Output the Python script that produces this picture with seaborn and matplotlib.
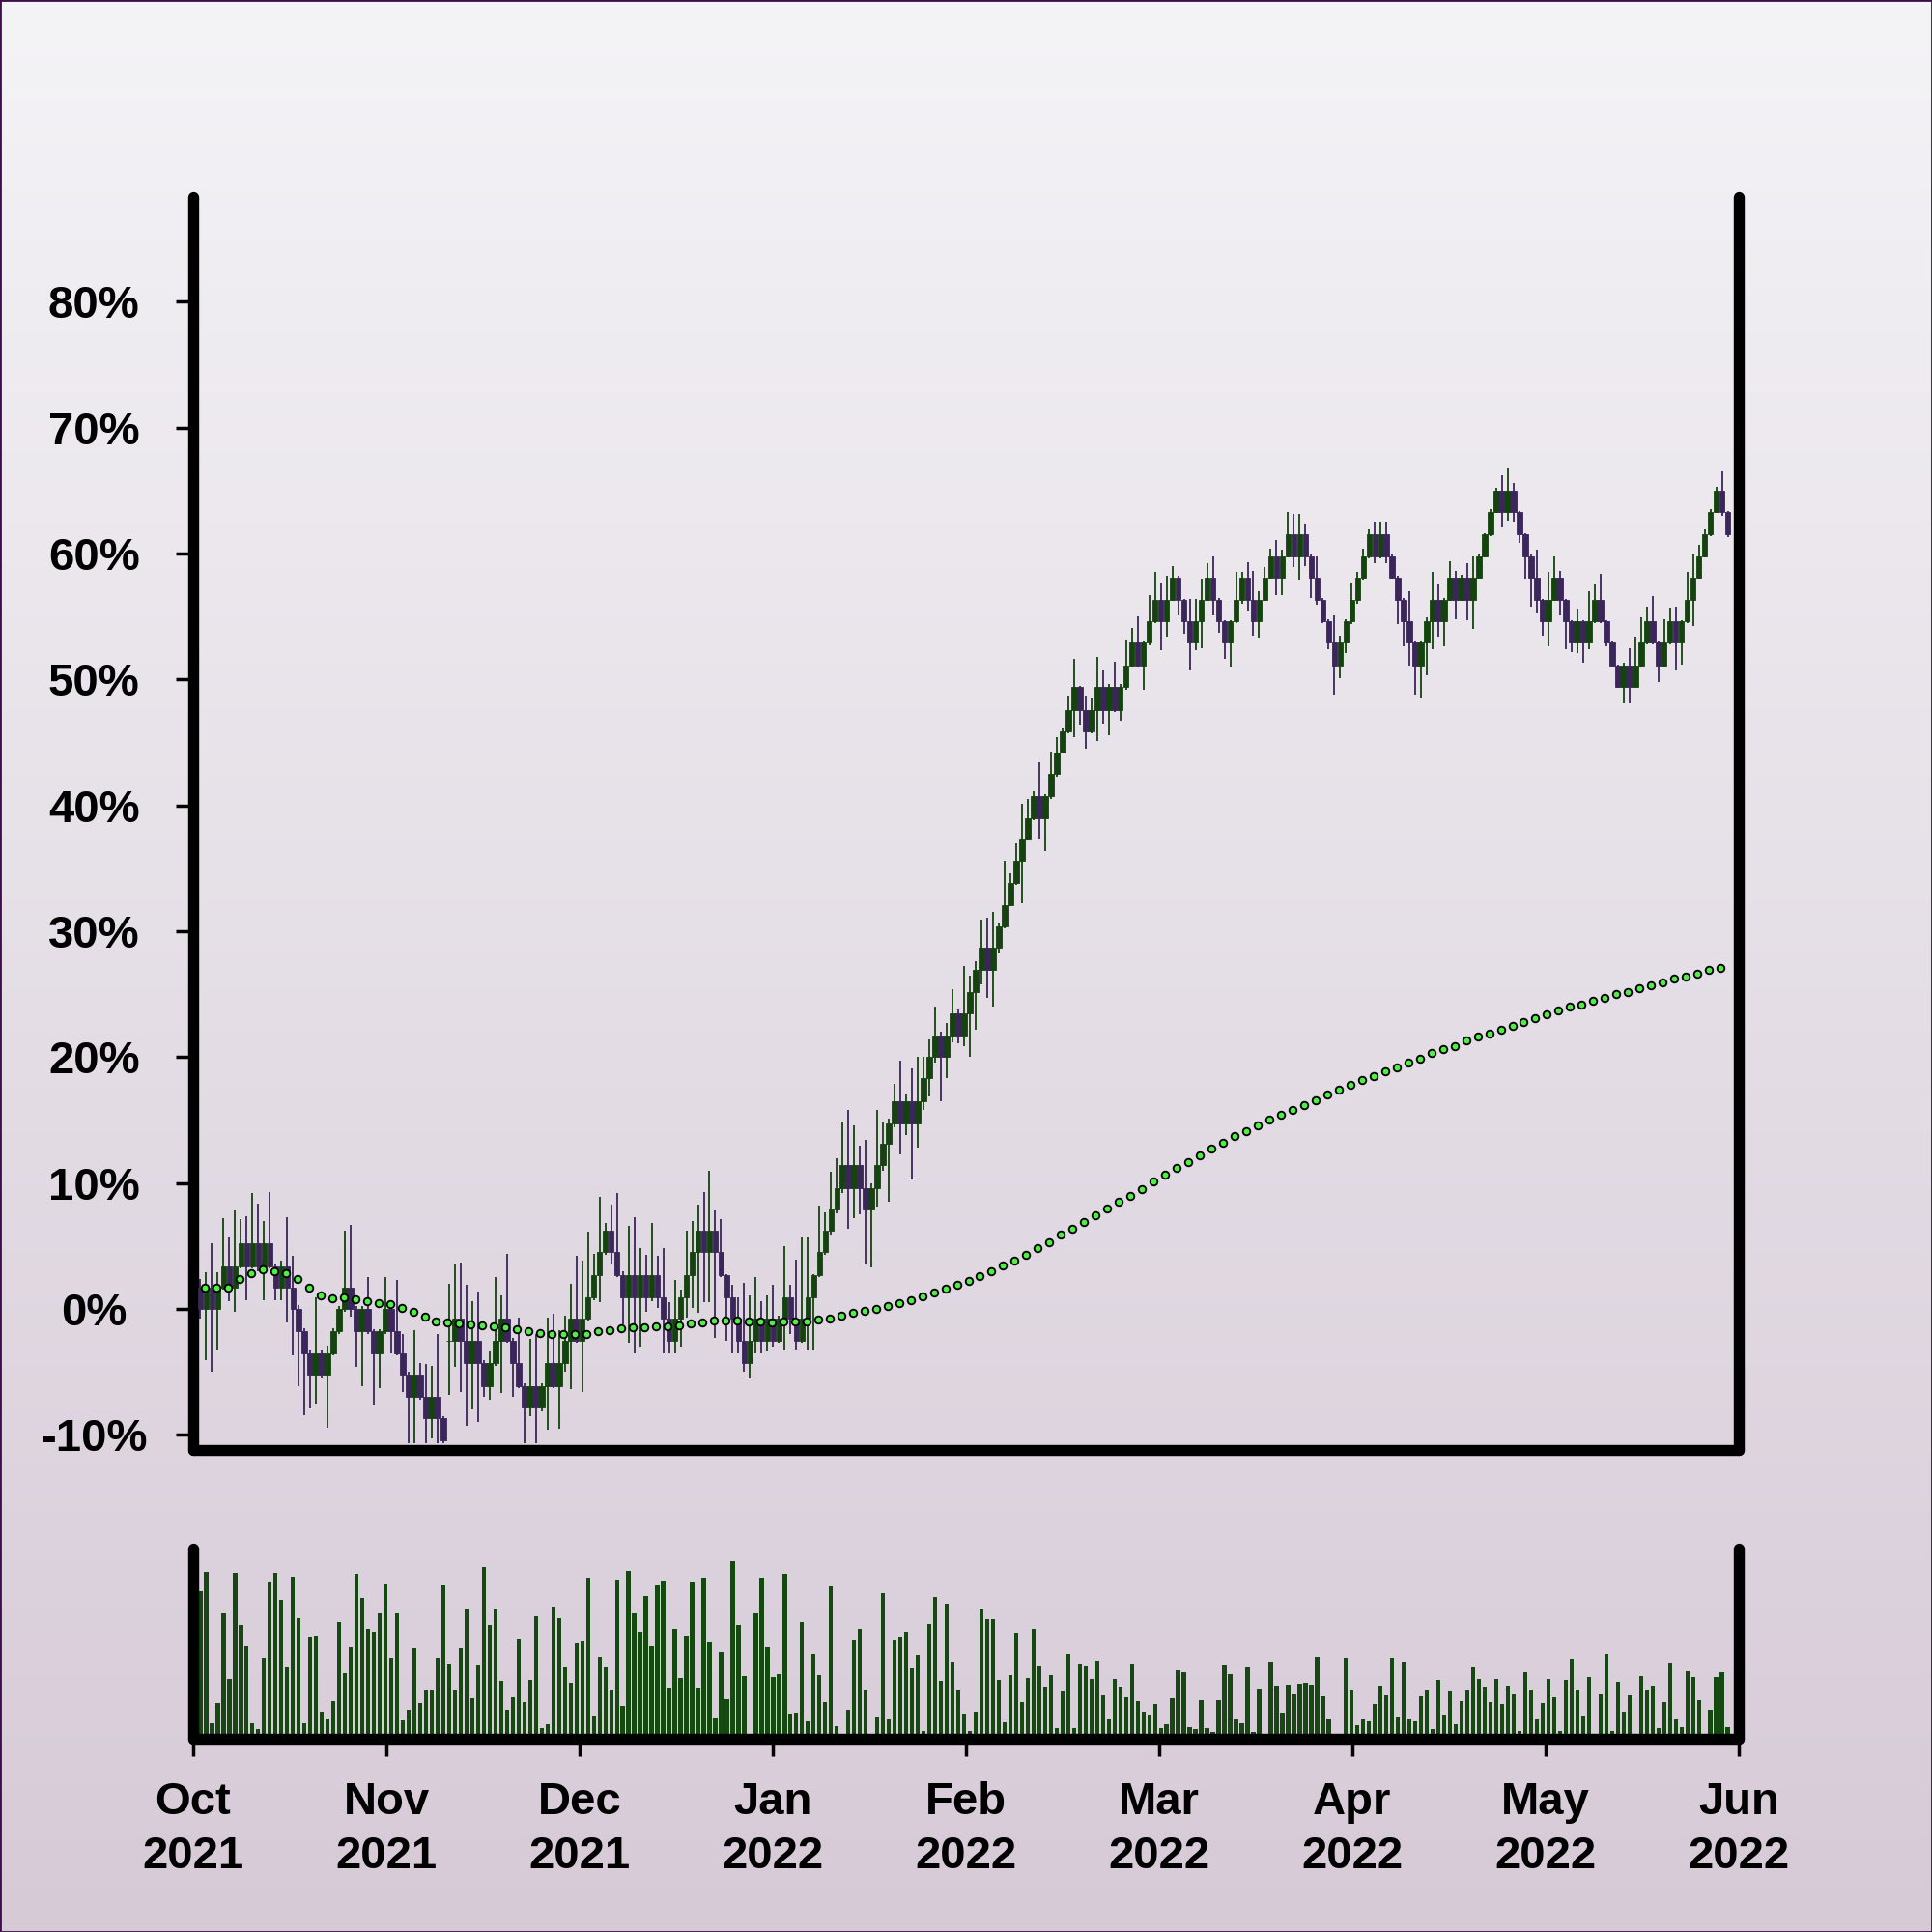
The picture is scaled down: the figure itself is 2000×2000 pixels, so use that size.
import numpy as np
import matplotlib
matplotlib.use("Agg")
import matplotlib.pyplot as plt
from matplotlib.colors import LinearSegmentedColormap
import seaborn as sns

# ---- data (percent change, one candle per period) ----
open_pct = [
    1.7, 0.0, 1.7, 0.0, 1.7, 3.4, 1.7, 3.4, 5.2, 3.4,
    5.2, 3.4, 5.2, 3.4, 1.7, 3.4, 1.7, 0.0, -1.8, -3.5,
    -5.2, -3.5, -5.2, -3.5, -1.8, 0.0, 1.7, 0.0, -1.8, 0.0,
    -1.8, -3.5, -1.8, 0.0, -1.8, -3.5, -5.2, -7.0, -5.2, -7.0,
    -8.7, -7.0, -8.7, -2.5, -2.5, -0.8, -2.5, -4.3, -2.5, -4.3,
    -6.1, -4.3, -2.5, -0.8, -2.5, -4.3, -6.1, -7.8, -6.1, -7.8,
    -6.1, -4.3, -6.1, -4.3, -2.5, -0.8, -2.5, -0.8, 0.9, 2.7,
    4.5, 6.2, 4.5, 2.7, 0.9, 2.7, 0.9, 2.7, 0.9, 2.7,
    0.9, -0.8, -2.5, -0.8, 0.9, 2.7, 4.5, 6.2, 4.5, 6.2,
    4.5, 2.7, 0.9, -0.8, -2.5, -4.3, -2.5, -0.8, -2.5, -0.8,
    -2.5, -0.8, 0.9, -0.8, -2.5, -0.8, 0.9, 2.7, 4.5, 6.2,
    7.9, 9.6, 11.4, 9.6, 11.4, 9.6, 7.9, 9.6, 11.4, 13.1,
    14.7, 16.5, 14.7, 16.5, 14.7, 16.5, 18.3, 20.0, 21.7, 20.0,
    21.7, 23.5, 21.7, 23.5, 25.2, 26.9, 28.7, 26.9, 28.7, 30.4,
    32.1, 33.8, 35.6, 37.3, 39.0, 40.7, 39.0, 40.7, 42.5, 44.2,
    45.9, 47.6, 49.4, 47.6, 45.9, 47.6, 49.4, 47.6, 49.4, 47.6,
    49.4, 51.1, 52.9, 51.1, 52.9, 54.6, 56.3, 54.6, 56.3, 58.1,
    56.3, 54.6, 52.9, 54.6, 56.3, 58.1, 56.3, 54.6, 52.9, 54.6,
    56.3, 58.1, 56.3, 54.6, 56.3, 58.1, 59.8, 58.1, 59.8, 61.5,
    59.8, 61.5, 59.8, 58.1, 56.3, 54.6, 52.9, 51.1, 52.9, 54.6,
    56.3, 58.1, 59.8, 61.5, 59.8, 61.5, 59.8, 58.1, 56.3, 54.6,
    52.9, 51.1, 52.9, 54.6, 56.3, 54.6, 56.3, 58.1, 56.3, 58.1,
    56.3, 58.1, 59.8, 61.5, 63.3, 65.0, 63.3, 65.0, 63.3, 61.5,
    59.8, 58.1, 56.3, 54.6, 56.3, 58.1, 56.3, 54.6, 52.9, 54.6,
    52.9, 54.6, 56.3, 54.6, 52.9, 51.1, 49.4, 51.1, 49.4, 51.1,
    52.9, 54.6, 52.9, 51.1, 52.9, 54.6, 52.9, 54.6, 56.3, 58.1,
    59.8, 61.5, 63.3, 65.0, 63.3,
]
close_pct = [
    0.0, 1.7, 0.0, 1.7, 3.4, 1.7, 3.4, 5.2, 3.4, 5.2,
    3.4, 5.2, 3.4, 1.7, 3.4, 1.7, 0.0, -1.8, -3.5, -5.2,
    -3.5, -5.2, -3.5, -1.8, 0.0, 1.7, 0.0, -1.8, 0.0, -1.8,
    -3.5, -1.8, 0.0, -1.8, -3.5, -5.2, -7.0, -5.2, -7.0, -8.7,
    -7.0, -8.7, -10.4, -2.5, -0.8, -2.5, -4.3, -2.5, -4.3, -6.1,
    -4.3, -2.5, -0.8, -2.5, -4.3, -6.1, -7.8, -6.1, -7.8, -6.1,
    -4.3, -6.1, -4.3, -2.5, -0.8, -2.5, -0.8, 0.9, 2.7, 4.5,
    6.2, 4.5, 2.7, 0.9, 2.7, 0.9, 2.7, 0.9, 2.7, 0.9,
    -0.8, -2.5, -0.8, 0.9, 2.7, 4.5, 6.2, 4.5, 6.2, 4.5,
    2.7, 0.9, -0.8, -2.5, -4.3, -2.5, -0.8, -2.5, -0.8, -2.5,
    -0.8, 0.9, -0.8, -2.5, -0.8, 0.9, 2.7, 4.5, 6.2, 7.9,
    9.6, 11.4, 9.6, 11.4, 9.6, 7.9, 9.6, 11.4, 13.1, 14.7,
    16.5, 14.7, 16.5, 14.7, 16.5, 18.3, 20.0, 21.7, 20.0, 21.7,
    23.5, 21.7, 23.5, 25.2, 26.9, 28.7, 26.9, 28.7, 30.4, 32.1,
    33.8, 35.6, 37.3, 39.0, 40.7, 39.0, 40.7, 42.5, 44.2, 45.9,
    47.6, 49.4, 47.6, 45.9, 47.6, 49.4, 47.6, 49.4, 47.6, 49.4,
    51.1, 52.9, 51.1, 52.9, 54.6, 56.3, 54.6, 56.3, 58.1, 56.3,
    54.6, 52.9, 54.6, 56.3, 58.1, 56.3, 54.6, 52.9, 54.6, 56.3,
    58.1, 56.3, 54.6, 56.3, 58.1, 59.8, 58.1, 59.8, 61.5, 59.8,
    61.5, 59.8, 58.1, 56.3, 54.6, 52.9, 51.1, 52.9, 54.6, 56.3,
    58.1, 59.8, 61.5, 59.8, 61.5, 59.8, 58.1, 56.3, 54.6, 52.9,
    51.1, 52.9, 54.6, 56.3, 54.6, 56.3, 58.1, 56.3, 58.1, 56.3,
    58.1, 59.8, 61.5, 63.3, 65.0, 63.3, 65.0, 63.3, 61.5, 59.8,
    58.1, 56.3, 54.6, 56.3, 58.1, 56.3, 54.6, 52.9, 54.6, 52.9,
    54.6, 56.3, 54.6, 52.9, 51.1, 49.4, 51.1, 49.4, 51.1, 52.9,
    54.6, 52.9, 51.1, 52.9, 54.6, 52.9, 54.6, 56.3, 58.1, 59.8,
    61.5, 63.3, 65.0, 63.3, 61.5,
]
high_pct = [
    2.4, 2.9, 5.2, 2.9, 7.2, 5.7, 7.8, 7.1, 7.4, 9.2,
    8.4, 7.0, 9.3, 3.6, 3.8, 7.3, 4.2, 0.3, -1.5, -3.3,
    0.9, -3.3, -2.9, -1.5, 0.2, 6.2, 6.7, 0.2, 0.2, 2.5,
    -1.6, -1.6, 2.5, 0.6, 2.3, -2.0, -5.0, -1.7, -4.3, -4.4,
    -4.5, -2.0, -8.5, 2.0, 3.6, 3.7, 1.9, 0.6, 1.4, -4.1,
    -3.4, 2.5, 1.1, 4.4, -2.3, -0.7, -5.9, -2.4, -2.0, -5.9,
    -0.7, -0.4, -1.7, -0.5, 2.0, 4.2, 3.8, 6.1, 4.4, 8.9,
    6.8, 8.3, 9.2, 3.0, 6.6, 7.3, 4.8, 4.3, 6.8, 4.2,
    4.8, 0.5, 2.3, 1.5, 6.2, 7.0, 8.3, 9.3, 11.0, 7.8,
    7.1, 2.8, 1.9, 0.9, 2.1, 1.1, 2.5, 0.6, 1.1, 1.9,
    -0.5, 5.0, 1.9, 3.9, 5.7, 5.7, 2.8, 8.2, 7.7, 10.9,
    12.0, 14.9, 15.8, 14.6, 13.0, 13.4, 10.0, 15.8, 14.9, 15.1,
    17.9, 19.7, 17.0, 19.1, 20.0, 20.0, 21.4, 24.0, 22.0, 22.7,
    25.4, 23.8, 27.2, 26.5, 27.6, 30.9, 31.1, 31.5, 30.6, 35.6,
    34.6, 37.0, 40.1, 40.5, 41.1, 43.4, 40.9, 44.3, 45.4, 46.1,
    48.6, 51.6, 49.5, 48.7, 48.5, 51.8, 50.7, 49.6, 51.4, 49.6,
    53.1, 54.1, 55.0, 53.0, 56.7, 58.5, 57.6, 58.2, 59.0, 58.2,
    56.4, 56.4, 56.4, 58.0, 59.2, 59.8, 56.5, 54.7, 54.7, 58.5,
    58.5, 59.3, 58.6, 57.0, 58.9, 60.4, 61.1, 60.3, 63.3, 63.1,
    63.1, 62.4, 60.0, 59.8, 56.5, 54.8, 55.1, 53.5, 54.8, 57.6,
    58.5, 60.4, 61.9, 62.5, 62.5, 62.5, 60.0, 58.2, 56.5, 57.0,
    53.0, 53.0, 54.9, 58.5, 57.5, 56.5, 59.4, 58.6, 58.3, 59.2,
    59.8, 59.9, 61.6, 63.5, 65.2, 66.2, 66.8, 65.6, 63.4, 61.6,
    59.9, 60.3, 56.4, 58.5, 59.8, 58.6, 56.4, 54.7, 55.6, 54.7,
    57.0, 57.5, 58.4, 54.7, 53.0, 51.2, 51.3, 52.5, 53.4, 54.9,
    55.8, 56.6, 53.0, 54.8, 55.7, 55.8, 54.7, 58.5, 59.9, 60.7,
    61.9, 63.5, 65.3, 66.5, 63.4,
]
low_pct = [
    -0.8, -4.1, -5.0, -3.2, 1.5, 0.6, -0.2, 3.2, 0.7, 3.2,
    3.0, 0.7, 3.2, 0.7, 0.7, -1.1, -3.7, -6.1, -8.4, -7.9,
    -7.5, -5.5, -9.4, -3.7, -2.0, -0.2, -0.6, -4.6, -6.1, -2.0,
    -7.6, -6.3, -2.0, -3.5, -3.7, -6.6, -10.7, -10.7, -7.2, -10.7,
    -10.3, -10.7, -10.7, -6.8, -4.6, -6.6, -9.3, -8.0, -9.0, -7.0,
    -7.2, -4.5, -6.7, -2.7, -7.0, -6.3, -10.7, -8.5, -10.7, -8.1,
    -9.6, -6.3, -9.5, -5.0, -6.4, -2.7, -6.6, -1.0, 0.7, 0.5,
    4.3, 3.5, 2.5, -1.2, -2.7, -3.5, -3.0, -0.2, 0.6, 0.1,
    -3.5, -3.5, -3.5, -3.0, -0.7, 0.1, -0.3, 0.5, 0.5, -2.3,
    2.5, -2.5, -3.5, -3.5, -5.0, -5.5, -3.5, -3.5, -3.4, -3.0,
    -2.7, -3.2, -2.0, -3.2, -2.7, -3.2, -3.2, 2.5, 4.3, 5.9,
    7.6, 9.2, 6.4, 7.2, 7.5, 3.5, 3.3, 8.1, 11.0, 8.5,
    14.4, 12.3, 13.8, 10.3, 12.8, 15.8, 16.9, 19.6, 16.5, 18.3,
    21.2, 21.1, 20.9, 20.0, 22.2, 25.8, 24.7, 24.0, 28.2, 30.2,
    32.0, 33.7, 32.2, 37.2, 38.8, 37.3, 36.4, 40.5, 42.3, 44.1,
    45.7, 45.4, 46.3, 44.5, 45.7, 45.1, 46.5, 45.6, 47.4, 46.7,
    49.2, 51.0, 51.0, 49.2, 52.7, 54.5, 52.3, 53.4, 56.2, 55.1,
    53.6, 50.7, 52.3, 52.5, 56.2, 55.1, 53.7, 51.6, 51.0, 54.5,
    56.0, 55.4, 53.5, 53.3, 56.2, 58.0, 56.7, 56.7, 59.7, 58.9,
    57.9, 59.0, 56.5, 55.9, 54.5, 52.4, 48.8, 50.1, 52.1, 54.4,
    56.0, 57.9, 59.6, 59.2, 59.6, 59.2, 58.0, 54.4, 52.6, 51.1,
    48.8, 48.5, 50.3, 52.4, 53.4, 52.6, 56.2, 54.8, 56.2, 54.7,
    54.0, 58.0, 59.7, 61.4, 63.2, 62.1, 62.6, 62.5, 60.8, 58.0,
    55.8, 55.2, 53.5, 52.6, 56.2, 55.1, 52.4, 52.2, 52.1, 51.3,
    52.4, 54.5, 54.5, 52.6, 51.0, 49.3, 48.1, 48.1, 49.3, 51.0,
    52.8, 52.8, 49.8, 51.0, 52.8, 50.7, 51.2, 54.5, 54.2, 58.0,
    59.7, 61.4, 63.2, 63.0, 61.3,
]
volume = [
    45.8, 51.8, 4.7, 11.0, 39.0, 18.5, 51.5, 35.3, 28.9, 4.7,
    2.9, 25.3, 48.5, 51.6, 43.3, 22.2, 50.3, 37.5, 4.8, 31.4,
    31.7, 8.5, 6.3, 11.7, 36.2, 20.4, 28.5, 51.3, 43.8, 34.2,
    33.4, 39.0, 48.0, 25.3, 39.0, 5.6, 9.1, 28.1, 11.0, 15.1,
    15.1, 25.3, 47.6, 23.0, 14.9, 28.1, 40.1, 12.6, 22.8, 53.3,
    35.4, 40.1, 17.9, 9.1, 12.9, 30.8, 11.3, 18.2, 38.1, 3.3,
    4.5, 40.9, 37.4, 22.2, 17.4, 29.7, 30.2, 49.8, 7.1, 25.4,
    22.2, 15.3, 49.2, 10.1, 52.2, 38.9, 33.3, 44.3, 28.8, 47.7,
    48.9, 15.9, 34.2, 18.9, 31.8, 48.6, 15.8, 49.7, 29.9, 6.7,
    26.9, 12.2, 55.2, 35.3, 19.4, 0.0, 39.0, 49.7, 28.4, 19.2,
    20.0, 51.3, 7.8, 8.2, 36.4, 5.3, 26.4, 19.7, 11.4, 47.5,
    3.9, 0.0, 8.9, 30.5, 34.3, 15.0, 0.0, 7.0, 45.2, 5.9,
    30.5, 31.4, 33.4, 21.8, 26.1, 2.3, 35.7, 44.0, 17.9, 42.1,
    23.6, 14.9, 7.8, 2.5, 8.3, 40.2, 37.3, 37.1, 18.3, 5.2,
    19.8, 33.0, 11.4, 18.8, 34.2, 22.4, 16.3, 19.7, 3.2, 14.6,
    26.4, 3.2, 23.1, 22.4, 18.6, 24.3, 13.4, 6.3, 18.6, 16.2,
    12.9, 23.0, 11.7, 8.5, 7.4, 10.8, 3.2, 4.4, 12.5, 21.3,
    20.8, 3.6, 2.9, 12.1, 3.2, 2.1, 12.0, 22.9, 20.0, 5.9,
    4.9, 22.1, 2.1, 15.7, 0.0, 24.1, 16.6, 8.0, 16.7, 13.7,
    17.0, 17.3, 16.9, 25.4, 13.1, 6.2, 0.0, 0.0, 25.1, 14.9,
    4.1, 5.9, 5.5, 10.9, 16.4, 13.6, 25.1, 6.8, 23.6, 6.1,
    5.3, 13.1, 14.9, 3.0, 18.2, 7.5, 14.8, 4.5, 11.6, 15.1,
    22.3, 18.7, 16.2, 11.3, 18.5, 10.7, 16.4, 13.9, 2.4, 20.8,
    15.2, 5.9, 11.0, 18.5, 12.8, 2.4, 18.3, 25.0, 15.2, 7.3,
    19.1, 0.0, 13.8, 26.3, 2.4, 17.6, 8.3, 13.6, 0.0, 19.4,
    15.3, 16.6, 3.2, 11.5, 23.3, 5.9, 3.7, 20.9, 19.2, 12.0,
    0.0, 9.0, 19.1, 20.7, 3.5,
]
# slow average line, one dot every second candle
ma_pct = [
    1.68, 1.68, 1.68, 2.35, 2.84, 3.17, 2.96, 2.86, 2.37, 1.68,
    1.09, 0.86, 0.94, 0.76, 0.61, 0.45, 0.35, 0.04, -0.21, -0.62,
    -1.01, -1.08, -1.14, -1.19, -1.34, -1.39, -1.44, -1.60, -1.75, -1.90,
    -2.00, -2.03, -2.03, -1.96, -1.78, -1.65, -1.57, -1.49, -1.44, -1.38,
    -1.36, -1.31, -1.16, -1.06, -0.95, -0.93, -0.95, -0.98, -1.01, -1.04,
    -1.01, -1.00, -0.96, -0.88, -0.73, -0.52, -0.31, -0.17, 0.00, 0.26,
    0.48, 0.70, 0.98, 1.29, 1.59, 1.92, 2.25, 2.62, 3.01, 3.44,
    3.86, 4.33, 4.81, 5.30, 5.87, 6.40, 6.93, 7.46, 7.99, 8.48,
    9.01, 9.54, 10.11, 10.64, 11.21, 11.65, 12.18, 12.7, 13.2, 13.7,
    14.1, 14.6, 15.0, 15.4, 15.8, 16.2, 16.6, 17.0, 17.4, 17.8,
    18.2, 18.5, 18.9, 19.2, 19.6, 19.9, 20.3, 20.6, 20.9, 21.3,
    21.6, 21.9, 22.2, 22.5, 22.8, 23.1, 23.4, 23.7, 24.0, 24.2,
    24.5, 24.7, 25.0, 25.2, 25.5, 25.7, 25.9, 26.2, 26.4, 26.6,
    26.9, 27.1,
]
month_labels = ["Oct\n2021", "Nov\n2021", "Dec\n2021", "Jan\n2022", "Feb\n2022",
                "Mar\n2022", "Apr\n2022", "May\n2022", "Jun\n2022"]
pct_ticks = [-10, 0, 10, 20, 30, 40, 50, 60, 70, 80]

GREEN = "#15430f"
PURPLE = "#3a2659"
VOL_GREEN = "#164812"
DOT = "#52ee48"

sns.set_theme(style="white")
plt.rcParams["font.family"] = ["Liberation Sans", "DejaVu Sans"]
plt.rcParams["font.weight"] = "bold"

fig = plt.figure(figsize=(20, 20), dpi=100)

# gradient background with thin border
bg = fig.add_axes([0, 0, 1, 1], zorder=-10)
cmap = LinearSegmentedColormap.from_list("bg", ["#f4f3f6", "#d6cad7"])
bg.imshow(np.linspace(0, 1, 256).reshape(-1, 1), aspect="auto", cmap=cmap,
          extent=[0, 1, 0, 1], origin="upper")
bg.set_xticks([])
bg.set_yticks([])
for s in bg.spines.values():
    s.set_color("#3c0f4b")
    s.set_linewidth(2)

ax = fig.add_axes([0.1, 0.2495, 0.8, 0.6485])
axv = fig.add_axes([0.1, 0.1, 0.8, 0.0985])

n = len(close_pct)
idx = np.arange(n)
o = np.array(open_pct)
c = np.array(close_pct)
cols = np.where(c >= o, GREEN, PURPLE)

ax.vlines(idx, low_pct, high_pct, colors=cols, linewidth=1.3, zorder=2)
ax.bar(idx, np.abs(c - o), bottom=np.minimum(o, c), width=0.92,
       color=cols, edgecolor=cols, linewidth=0.6, zorder=3)

ma_x = np.arange(len(ma_pct)) * 2 + 0.75
sns.scatterplot(x=ma_x, y=ma_pct, ax=ax, s=30, color=DOT, edgecolor="black",
                linewidth=1.3, zorder=5, legend=False)

sns.barplot(x=idx, y=volume, ax=axv, color=VOL_GREEN, saturation=1,
            width=0.72, errorbar=None, linewidth=0)

xlim = (-1.24, 265.9)
for a in (ax, axv):
    a.set_facecolor("none")
    a.set_xlim(*xlim)
    a.spines["top"].set_visible(False)
    for side in ("left", "right", "bottom"):
        a.spines[side].set_linewidth(8.2)
        a.spines[side].set_color("black")
        a.spines[side].set_capstyle("round")
    a.grid(False)
    a.set_xlabel("")
    a.set_ylabel("")

ax.set_ylim(-11.2, 88.3)
ax.set_xticks([])
ax.set_yticks(pct_ticks, [f"{v}%" for v in pct_ticks], ha="center")
ax.tick_params(axis="y", left=True, length=13, width=2.5, pad=61,
               labelsize=34, color="black", labelcolor="black")

axv.set_ylim(0, 59.1)
axv.set_yticks([])
axv.set_xticks(np.linspace(xlim[0], xlim[1], 9), month_labels, linespacing=1.34)
axv.tick_params(axis="x", bottom=True, length=13, width=2.5, pad=19,
                labelsize=34, color="black", labelcolor="black")

fig.savefig("out.png", dpi=100)
